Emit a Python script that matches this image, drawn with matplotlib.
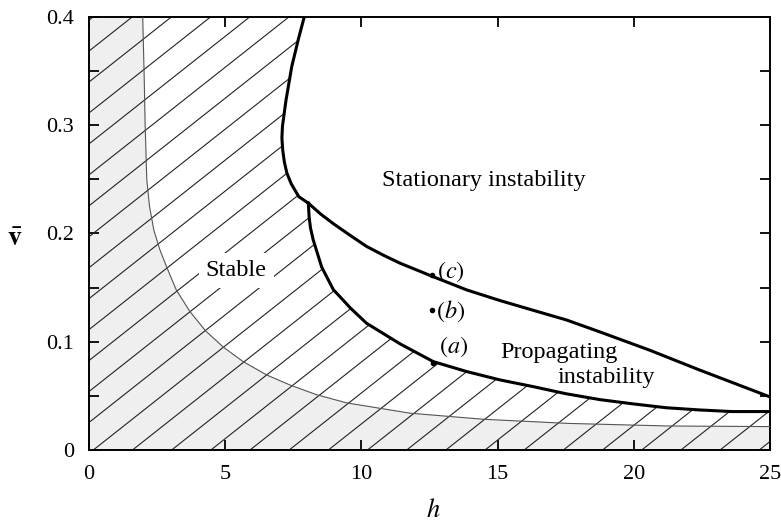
import numpy as np
import matplotlib
matplotlib.use("Agg")
import matplotlib.pyplot as plt
from matplotlib.patches import Polygon
from matplotlib.collections import LineCollection

plt.rcParams['font.family'] = ['Liberation Serif', 'DejaVu Serif']
plt.rcParams['mathtext.fontset'] = 'stix'

# ---- data ----
# thin curve (boundary of grey region)
thin_h = [1.97, 2.02, 2.06, 2.12, 2.22, 2.38, 2.60, 2.85, 3.20, 3.70, 4.28, 4.93, 5.66,
          6.52, 7.38, 8.36, 9.46, 11.78, 14.47, 17.54, 21.2, 25.0]
thin_v = [0.400, 0.350, 0.300, 0.250, 0.225, 0.203, 0.185, 0.169, 0.148, 0.128, 0.110, 0.095, 0.0816,
          0.0693, 0.060, 0.051, 0.0435, 0.034, 0.0284, 0.0246, 0.0222, 0.0216]

# thick outer boundary from top down to the cusp
outer_h = [7.90, 7.68, 7.44, 7.23, 7.10, 7.08, 7.11, 7.17, 7.26, 7.42, 7.70, 8.05]
outer_v = [0.400, 0.379, 0.354, 0.323, 0.299, 0.288, 0.277, 0.266, 0.256, 0.246, 0.234, 0.228]

# lower branch (stable / propagating)
low_h = [8.05, 8.08, 8.13, 8.23, 8.54, 8.97, 9.21, 9.60, 10.19, 11.42, 12.64, 13.87,
         15.09, 16.31, 17.50, 18.76, 20.0, 21.2, 22.4, 23.6, 25.0]
low_v = [0.228, 0.215, 0.205, 0.194, 0.169, 0.148, 0.1416, 0.131, 0.117, 0.098, 0.0816, 0.0724,
         0.0647, 0.0585, 0.052, 0.0465, 0.0425, 0.039, 0.037, 0.0355, 0.0355]

# upper branch (propagating / stationary)
up_h = [8.05, 8.50, 8.97, 9.60, 10.19, 10.80, 11.42, 12.64, 13.87, 15.09, 16.31, 17.54,
        18.76, 20.6, 22.4, 25.0]
up_v = [0.228, 0.218, 0.209, 0.198, 0.188, 0.180, 0.1725, 0.160, 0.1478, 0.138, 0.129, 0.120,
        0.109, 0.092, 0.074, 0.049]

# marked points
pt_labels = ['(a)', '(b)', '(c)']
pt_h = [12.64, 12.58, 12.58]
pt_v = [0.0805, 0.129, 0.1617]

x_ticks = [0, 5, 10, 15, 20, 25]
y_ticks = [0, 0.1, 0.2, 0.3, 0.4]
y_ticklabels = ['0', '0.1', '0.2', '0.3', '0.4']

XMAX, YMAX = 25, 0.4

fig = plt.figure(figsize=(7.81, 5.23), dpi=100)
ax = fig.add_axes([0.114, 0.1396, 0.872, 0.828])
ax.set_xlim(0, XMAX)
ax.set_ylim(0, YMAX)

# grey region
gx = [0] + thin_h + [XMAX, 0]
gy = [YMAX] + thin_v + [0, 0]
ax.fill(gx, gy, color='#efefef', lw=0, zorder=1)

# hatched (stable) region as clip polygon
sx = [0, 0] + outer_h + low_h[1:] + [XMAX]
sy = [0, YMAX] + outer_v + low_v[1:] + [0]
stable = Polygon(np.column_stack([sx, sy]), closed=True, fill=False, lw=0,
                 transform=ax.transData)
ax.add_patch(stable)

slope = 0.01988      # data units of v per unit h
spacing = 1.438      # h spacing at v=0
offset = 0.158
segs = []
for k in range(-16, 20):
    h0 = offset + spacing * k
    segs.append([(h0, 0.0), (h0 + YMAX / slope, YMAX)])
lc = LineCollection(segs, colors='#222222', linewidths=0.8, zorder=2)
ax.add_collection(lc)
lc.set_clip_path(stable)

# curves
ax.plot(thin_h, thin_v, color='#555555', lw=0.8, zorder=3)
ax.plot(outer_h, outer_v, color='black', lw=2.2, zorder=4, solid_joinstyle='round')
ax.plot(low_h, low_v, color='black', lw=2.2, zorder=4, solid_joinstyle='round')
ax.plot(up_h, up_v, color='black', lw=2.2, zorder=4, solid_joinstyle='round')

# points and labels
ax.scatter(pt_h, pt_v, s=9, color='black', zorder=5)
lab_off = [(0.75, 0.0149), (0.70, -0.0012), (0.70, 0.003)]
for lab, hx, vy, (dx, dy) in zip(pt_labels, pt_h, pt_v, lab_off):
    ax.text(hx + dx, vy + dy, '$' + lab + '$', fontsize=17.5, ha='center', va='center', zorder=6)

# region labels
FS = 17.5
ax.text(14.5, 0.249, 'Stationary instability', fontsize=FS, ha='center', va='center', zorder=6)
ax.text(5.40, 0.166, 'Stable', fontsize=FS, ha='center', va='center', zorder=6,
        bbox=dict(facecolor='white', edgecolor='none', pad=5))
ax.text(17.25, 0.0896, 'Propagating', fontsize=FS, ha='center', va='center', zorder=6)
ax.text(18.98, 0.0665, 'instability', fontsize=FS, ha='center', va='center', zorder=6)

# axes styling
ax.set_xticks(x_ticks)
ax.set_xticklabels([str(t) for t in x_ticks])
ax.set_yticks(y_ticks)
ax.set_yticklabels(y_ticklabels)
ax.set_yticks(np.arange(0.05, 0.4, 0.1), minor=True)
ax.tick_params(which='both', direction='in', top=True, right=True, length=7.5, width=1.3,
               labelsize=16, pad=11)
for sp in ax.spines.values():
    sp.set_linewidth(1.4)

ax.text(0.505, -0.139, '$h$', transform=ax.transAxes, fontsize=19,
        ha='center', va='center')
ax.text(-0.109, 0.485, r'$\bar{\mathbf{v}}$', transform=ax.transAxes, fontsize=20,
        ha='center', va='center')

fig.savefig('out.png', dpi=100)
